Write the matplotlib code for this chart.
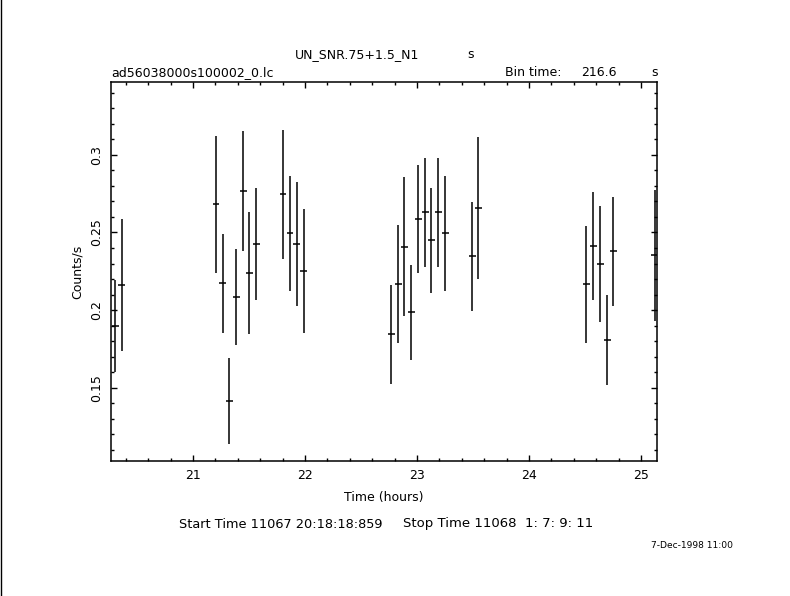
import numpy as np
import matplotlib
matplotlib.use("Agg")
import matplotlib.pyplot as plt
from matplotlib.ticker import MultipleLocator

# light curve values
time_h = [20.306, 20.363, 21.205, 21.265, 21.324, 21.387, 21.449, 21.503, 21.565,
          21.804, 21.866, 21.926, 21.988, 22.771, 22.833, 22.887, 22.949, 23.012,
          23.074, 23.128, 23.190, 23.253, 23.494, 23.547, 24.512, 24.574, 24.637,
          24.699, 24.753, 25.122]
rate = [0.1897, 0.2162, 0.2682, 0.2173, 0.1414, 0.2083, 0.2768, 0.2237, 0.2424,
        0.2747, 0.2495, 0.2424, 0.2250, 0.1844, 0.2168, 0.2407, 0.1986, 0.2585,
        0.2630, 0.2450, 0.2630, 0.2495, 0.2347, 0.2656, 0.2166, 0.2411, 0.2295,
        0.1805, 0.2379, 0.2353]
rate_err = [0.0298, 0.0424, 0.0442, 0.0318, 0.0277, 0.0311, 0.0389, 0.0392, 0.0361,
            0.0415, 0.0371, 0.0401, 0.0400, 0.0319, 0.0380, 0.0448, 0.0305, 0.0347,
            0.0350, 0.0337, 0.0350, 0.0371, 0.0350, 0.0457, 0.0379, 0.0347, 0.0373,
            0.0289, 0.0350, 0.0424]
bin_time = 216.6  # s
half_bin = bin_time / 3600.0 / 2.0

W, H = 790, 596
fig = plt.figure(figsize=(W / 100, H / 100), dpi=100)
fs = 9

ax = fig.add_axes([111 / W, 1 - 461 / H, (657 - 111) / W, (461 - 82) / H])
ax.errorbar(time_h, rate, xerr=half_bin, yerr=rate_err, fmt='none',
            ecolor='black', elinewidth=1.1, capsize=0)

ax.set_xlim(20.268, 25.143)
ax.set_ylim(0.1027, 0.347)
ax.xaxis.set_major_locator(MultipleLocator(1))
ax.xaxis.set_minor_locator(MultipleLocator(0.2))
ax.yaxis.set_major_locator(MultipleLocator(0.05))
ax.yaxis.set_minor_locator(MultipleLocator(0.01))
ax.yaxis.set_major_formatter(plt.FuncFormatter(lambda v, p: ('%g' % round(v, 3))))
ax.tick_params(which='both', direction='in', top=True, right=True, width=1,
               labelsize=fs, colors='black')
ax.tick_params(which='major', length=4.6, pad=6)
ax.tick_params(which='minor', length=2.2)
for lab in ax.get_yticklabels():
    lab.set_rotation(90)
    lab.set_va('center')
for s in ax.spines.values():
    s.set_linewidth(1.1)

ax.set_xlabel('Time (hours)', fontsize=fs, labelpad=6)
ax.set_ylabel('Counts/s', fontsize=fs, labelpad=4)

# header / footer texts
fig.text(295 / W, 1 - 55 / H, 'UN_SNR.75+1.5_N1', fontsize=fs, va='center')
fig.text(467 / W, 1 - 55 / H, 's', fontsize=fs, va='center')
fig.text(111 / W, 1 - 73 / H, 'ad56038000s100002_0.lc', fontsize=fs, va='center')
fig.text(505 / W, 1 - 73 / H, 'Bin time:', fontsize=fs, va='center')
fig.text(581 / W, 1 - 73 / H, '216.6', fontsize=fs, va='center')
fig.text(651 / W, 1 - 73 / H, 's', fontsize=fs, va='center')
fig.text(179 / W, 1 - 524 / H, 'Start Time 11067 20:18:18:859',
         fontsize=9.3, va='center')
fig.text(403 / W, 1 - 524 / H, 'Stop Time 11068  1: 7: 9: 11',
         fontsize=9.5, va='center')
fig.text(733 / W, 1 - 545 / H, '7-Dec-1998 11:00', fontsize=6.6, va='center', ha='right')

# left border line of the original page
fig.add_artist(plt.Line2D([0.5 / W, 0.5 / W], [0, 1], color='black', lw=1.0))

fig.savefig('out.png', dpi=100)
